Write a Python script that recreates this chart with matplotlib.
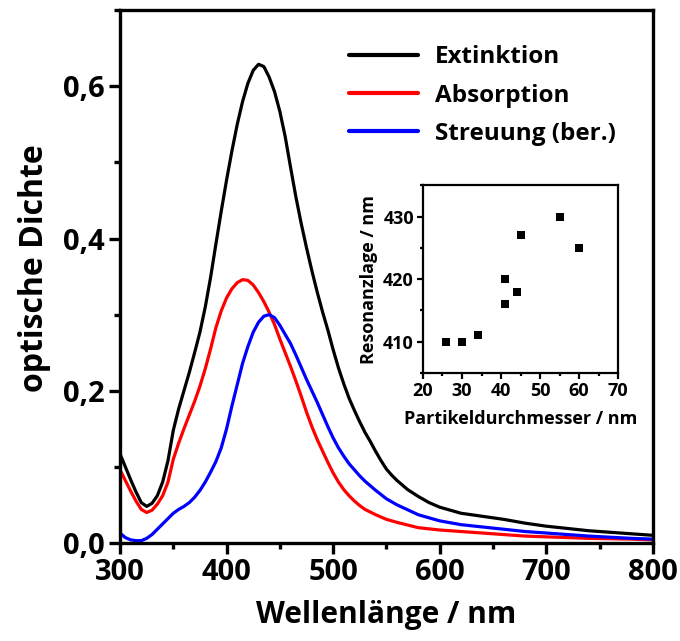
import matplotlib
matplotlib.use("Agg")
import matplotlib.pyplot as plt
from matplotlib.ticker import MultipleLocator, FixedFormatter, FixedLocator

# spectra (wavelength in nm, optical density)
wl_ext = [300, 305, 310, 315, 320, 325, 330, 335, 340, 345, 350, 355, 360, 365, 370,
          375, 380, 385, 390, 395, 400, 405, 410, 415, 420, 425, 430, 435, 440, 445,
          450, 455, 460, 465, 470, 475, 480, 485, 490, 495, 500, 505, 510, 515, 520,
          525, 530, 535, 540, 545, 550, 555, 560, 570, 580, 590, 600, 610, 620, 640,
          660, 680, 700, 720, 740, 760, 780, 800]
extinktion = [0.117, 0.100, 0.083, 0.067, 0.053, 0.048, 0.052, 0.062, 0.080, 0.108,
              0.148, 0.176, 0.200, 0.224, 0.250, 0.277, 0.310, 0.349, 0.393, 0.436,
              0.477, 0.515, 0.550, 0.580, 0.604, 0.621, 0.629, 0.626, 0.612, 0.593,
              0.567, 0.534, 0.494, 0.455, 0.420, 0.388, 0.358, 0.330, 0.304, 0.280,
              0.254, 0.230, 0.209, 0.190, 0.174, 0.159, 0.145, 0.133, 0.120, 0.108,
              0.097, 0.089, 0.082, 0.070, 0.061, 0.053, 0.047, 0.043, 0.039, 0.035,
              0.031, 0.026, 0.022, 0.019, 0.016, 0.014, 0.012, 0.010]

wl_abs = [300, 305, 310, 315, 320, 325, 330, 335, 340, 345, 350, 355, 360, 365, 370,
          375, 380, 385, 390, 395, 400, 405, 410, 415, 420, 425, 430, 435, 440, 445,
          450, 455, 460, 465, 470, 475, 480, 485, 490, 495, 500, 505, 510, 515, 520,
          525, 530, 540, 550, 560, 580, 600, 620, 640, 660, 680, 700, 740, 780, 800]
absorption = [0.096, 0.082, 0.068, 0.055, 0.044, 0.040, 0.043, 0.051, 0.062, 0.080,
              0.110, 0.131, 0.150, 0.168, 0.186, 0.206, 0.229, 0.255, 0.283, 0.305,
              0.322, 0.334, 0.342, 0.346, 0.345, 0.339, 0.329, 0.317, 0.303, 0.287,
              0.268, 0.250, 0.232, 0.213, 0.193, 0.172, 0.153, 0.136, 0.121, 0.106,
              0.092, 0.080, 0.070, 0.062, 0.055, 0.049, 0.044, 0.037, 0.031, 0.027,
              0.020, 0.017, 0.015, 0.013, 0.011, 0.009, 0.008, 0.006, 0.005, 0.004]

wl_sca = [300, 305, 310, 315, 320, 325, 330, 335, 340, 345, 350, 355, 360, 365, 370,
          375, 380, 385, 390, 395, 400, 405, 410, 415, 420, 425, 430, 435, 440, 445,
          450, 455, 460, 465, 470, 475, 480, 485, 490, 495, 500, 505, 510, 515, 520,
          525, 530, 540, 550, 560, 580, 600, 620, 640, 660, 680, 700, 740, 780, 800]
streuung = [0.013, 0.007, 0.004, 0.003, 0.003, 0.006, 0.011, 0.018, 0.025, 0.032,
            0.039, 0.044, 0.048, 0.053, 0.060, 0.069, 0.080, 0.093, 0.107, 0.125,
            0.150, 0.180, 0.208, 0.236, 0.258, 0.277, 0.290, 0.298, 0.300, 0.296,
            0.286, 0.274, 0.262, 0.247, 0.231, 0.215, 0.200, 0.185, 0.169, 0.153,
            0.138, 0.125, 0.114, 0.104, 0.096, 0.088, 0.081, 0.069, 0.058, 0.050,
            0.037, 0.029, 0.024, 0.021, 0.018, 0.015, 0.013, 0.009, 0.006, 0.005]

# inset: resonance position vs particle diameter
durchmesser = [26, 30, 34, 41, 41, 44, 45, 55, 60]
resonanz = [410, 410, 411, 420, 416, 418, 427, 430, 425]

ytick_vals = [0.0, 0.2, 0.4, 0.6]
ytick_labels = ["0,0", "0,2", "0,4", "0,6"]

plt.rcParams['font.family'] = ['Open Sans', 'DejaVu Sans']
plt.rcParams['font.weight'] = 'bold'

fig = plt.figure(figsize=(6.8, 6.41), dpi=100)
ax = fig.add_axes([0.1765, 0.153, 0.7835, 0.831])

line_kw = dict(lw=2.3, solid_joinstyle="round", solid_capstyle="round")
ax.plot(wl_ext, extinktion, color="black", label="Extinktion", **line_kw)
ax.plot(wl_abs, absorption, color="#ff0000", label="Absorption", **line_kw)
ax.plot(wl_sca, streuung, color="#0000ff", label="Streuung (ber.)", **line_kw)

ax.set_xlim(300, 800)
ax.set_ylim(0, 0.70)
ax.xaxis.set_major_locator(MultipleLocator(100))
ax.xaxis.set_minor_locator(MultipleLocator(50))
ax.yaxis.set_major_locator(FixedLocator(ytick_vals))
ax.yaxis.set_major_formatter(FixedFormatter(ytick_labels))
ax.yaxis.set_minor_locator(MultipleLocator(0.1))
ax.tick_params(which="major", direction="out", length=8, width=2.4, labelsize=21, pad=3)
ax.tick_params(which="minor", direction="out", length=4.5, width=2.4)
for s in ax.spines.values():
    s.set_linewidth(2.4)
ax.set_xlabel("Wellenlänge / nm", fontsize=21.5, fontweight="bold", labelpad=9)
ax.set_ylabel("optische Dichte", fontsize=23, fontweight="bold", labelpad=6)
ax.yaxis.set_label_coords(-0.13, 0.515)

leg = ax.legend(loc="upper left", bbox_to_anchor=(0.388, 0.975), frameon=False,
                fontsize=17.5, handlelength=2.85, handletextpad=0.7, labelspacing=0.58)
for h in leg.get_lines():
    h.set_linewidth(3)

# inset
ins = fig.add_axes([0.622, 0.418, 0.287, 0.293])
ins.plot(durchmesser, resonanz, "s", color="black", ms=5.5, mew=0)
ins.set_xlim(20, 70)
ins.set_ylim(405, 435)
ins.xaxis.set_major_locator(MultipleLocator(10))
ins.xaxis.set_minor_locator(MultipleLocator(5))
ins.yaxis.set_major_locator(MultipleLocator(10))
ins.yaxis.set_minor_locator(MultipleLocator(5))
ins.tick_params(which="major", direction="out", length=4.5, width=1.6, labelsize=13, pad=2)
ins.tick_params(which="minor", direction="out", length=2.5, width=1.6)
for s in ins.spines.values():
    s.set_linewidth(1.6)
ins.set_xlabel("Partikeldurchmesser / nm", fontsize=13, fontweight="bold", labelpad=7)
ins.set_ylabel("Resonanzlage / nm", fontsize=13, fontweight="bold", labelpad=4)

fig.savefig("out.png", dpi=100)
